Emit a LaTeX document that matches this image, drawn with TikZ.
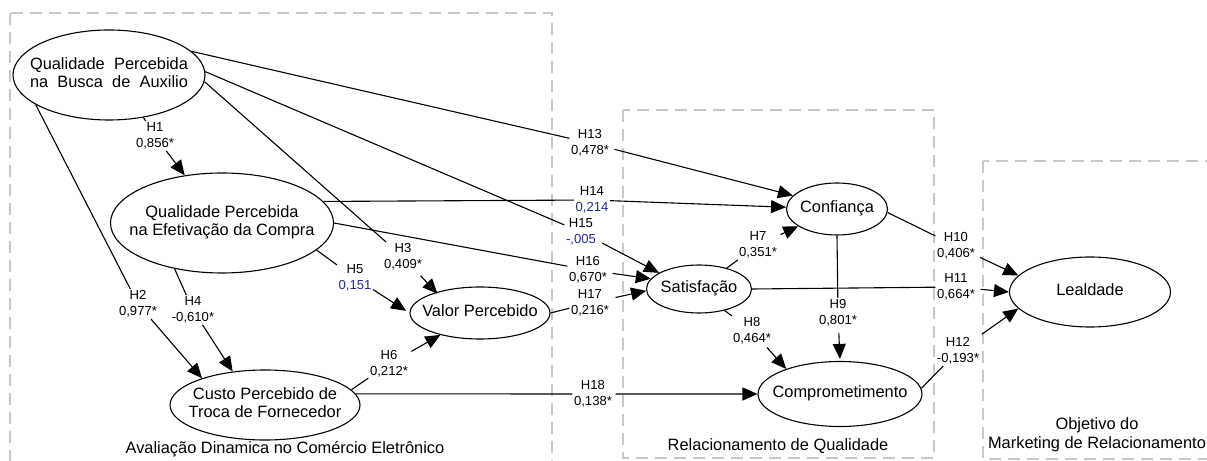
\documentclass[tikz,border=0pt]{standalone}
\usepackage{fontspec}
\setmainfont{Liberation Sans}
\usetikzlibrary{shapes.geometric,arrows.meta}
\definecolor{nsblue}{RGB}{40,40,150}
\definecolor{boxgray}{RGB}{200,200,200}
% centred multi-line text that does not widen the ellipse around it
\newcommand\ctxt[1]{\makebox[0pt]{\begin{tabular}{@{}c@{}}#1\end{tabular}}}

\begin{document}
\begin{tikzpicture}[x=1bp,y=-1bp,
  construct/.style={ellipse, draw, line width=1.1bp, inner sep=0pt,
    font=\fontsize{16.4bp}{18.5bp}\selectfont},
  coef/.style={align=center, inner sep=1.5bp,
    font=\fontsize{13.1bp}{15.8bp}\selectfont},
  link/.style={line width=1.1bp},
  arr/.style={link, -{Triangle[length=15bp,width=13bp]}},
  region/.style={draw=boxgray, line width=2.3bp, dash pattern=on 12bp off 7bp},
  regionlabel/.style={align=center, inner sep=0pt,
    font=\fontsize{16.4bp}{18.5bp}\selectfont}]

\useasboundingbox (0,0) rectangle (1207,461);
\clip (0,0) rectangle (1207,461);

% regions
\draw[region] (10,13) rectangle (552,475);
\draw[region] (623,110) rectangle (934,458);
\draw[region] (983,161) rectangle (1220,459);
\node[regionlabel] (r1) at (285,449) {Avaliação Dinamica no Comércio Eletrônico};
\node[regionlabel] (r2) at (778,446) {Relacionamento de Qualidade};
\node[regionlabel] (r3) at (1097,435) {Objetivo do\\Marketing de Relacionamento};

% constructs
\node[construct, minimum width=192bp, minimum height=90bp] (qpba) at (109,75)
  {\ctxt{\makebox[158bp][s]{Qualidade Percebida}\\\makebox[158bp][s]{na Busca de Auxilio}}};
\node[construct, minimum width=223bp, minimum height=100bp] (qpec) at (222,223)
  {\ctxt{Qualidade Percebida\\na Efetivação da Compra}};
\node[construct, minimum width=190bp, minimum height=70bp] (cptf) at (265,405)
  {\ctxt{Custo Percebido de\\Troca de Fornecedor}};
\node[construct, minimum width=140bp, minimum height=52bp] (valor) at (480,313)
  {\ctxt{Valor Percebido}};
\node[construct, minimum width=105bp, minimum height=48bp] (satis) at (699,289)
  {\ctxt{Satisfação}};
\node[construct, minimum width=101bp, minimum height=52bp] (conf) at (837,209)
  {\ctxt{Confiança}};
\node[construct, minimum width=164bp, minimum height=65bp] (comp) at (840,394)
  {\ctxt{Comprometimento}};
\node[construct, minimum width=161bp, minimum height=70bp] (leal) at (1090,292)
  {\ctxt{Lealdade}};

% path coefficients
\node[coef] (l1)  at (155,136) {H1\\0,856*};
\node[coef] (l2)  at (138,304) {H2\\0,977*};
\node[coef] (l3)  at (403,257) {H3\\0,409*};
\node[coef] (l4)  at (193,310) {H4\\-0,610*};
\node[coef] (l5)  at (355,278) {H5\\\textcolor{nsblue}{0,151}};
\node[coef] (l6)  at (389,364) {H6\\0,212*};
\node[coef] (l7)  at (758,245) {H7\\0,351*};
\node[coef] (l8)  at (752,331) {H8\\0,464*};
\node[coef] (l9)  at (838,313) {H9\\0,801*};
\node[coef] (l10) at (956,246) {H10\\0,406*};
\node[coef] (l11) at (956,287) {H11\\0,664*};
\node[coef] (l12) at (958,351) {H12\\-0,193*};
\node[coef] (l13) at (590,143) {H13\\0,478*};
\node[coef] (l14) at (592,200) {H14\\\textcolor{nsblue}{0,214}};
\node[coef] (l15) at (581,232) {H15\\\textcolor{nsblue}{-,005}};
\node[coef] (l16) at (588,270) {H16\\0,670*};
\node[coef] (l17) at (590,303) {H17\\0,216*};
\node[coef] (l18) at (593,394) {H18\\0,138*};

% hypotheses
\draw[arr] (qpba.-51) -- (l1) -- (qpec.128);
\draw[arr] (qpba.-158) -- (l2) -- (cptf.157);
\draw[arr, shorten <=5bp] (qpba.-4) -- (l3) -- ([shift={(-4bp,-3bp)}]valor.150);
\draw[arr] (qpec.-136) -- (l4) -- (cptf.134);
\draw[arr, shorten >=4bp] (qpec.-16) -- (l5) -- (valor.180);
\draw[arr, shorten <=2bp] (cptf.10) -- (l6) -- (valor.-151);
\draw[arr, shorten <=2bp] (satis.37) -- (l7) -- (conf.-156);
\draw[arr, shorten <=2bp] (satis.-40) -- (l8) -- (comp.155);
\draw[arr, shorten <=5bp, shorten >=2bp] (conf.-90) -- (l9) -- (comp.90);
\draw[arr, shorten <=4bp] (conf.-4) -- (l10) -- (leal.167);
\draw[arr, shorten <=4bp] (satis.0) -- (l11) -- (leal.180);
\draw[arr, shorten <=3bp] (comp.4) -- (l12) -- (leal.-167);
\draw[arr, shorten <=4bp] (qpba.16) -- (l13) -- (conf.163);
\draw[arr] (qpec.12) -- (l14) -- (conf.178);
\draw[arr, shorten <=5bp] (qpba.2) -- (l15) -- (satis.158);
\draw[arr, shorten <=4bp] (qpec.0) -- (l16) -- (satis.168);
\draw[arr, shorten <=5bp] (valor.0) -- (l17) -- (satis.182);
\draw[arr, shorten <=2bp] (cptf.7) -- (l18) -- (comp.180);

\end{tikzpicture}
\end{document}
